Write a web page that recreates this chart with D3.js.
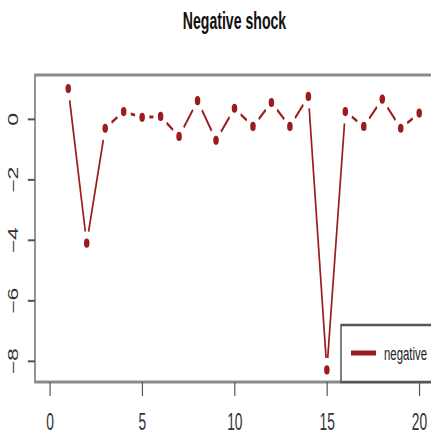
<!DOCTYPE html>
<html><head><meta charset="utf-8">
<script src="https://cdn.jsdelivr.net/npm/d3@7"></script>
<style>html,body{margin:0;padding:0;background:#fff;overflow:hidden}</style>
</head><body>
<script>
const periods = d3.range(1, 21);
const negative = [1.0, -4.11, -0.31, 0.24, 0.05, 0.08, -0.58, 0.6, -0.71, 0.35,
                  -0.25, 0.54, -0.25, 0.74, -8.3, 0.24, -0.25, 0.65, -0.31, 0.19];
const xTicks = [0, 5, 10, 15, 20];
const yTicks = [0, -2, -4, -6, -8];
const title = "Negative shock";
const seriesName = "negative";

const W = 431, H = 439, sx = 0.6, VW = W / sx;
const red = "#9a1c1f";
const svg = d3.select("body").append("svg")
  .attr("width", W).attr("height", H)
  .attr("viewBox", `0 0 ${VW} ${H}`)
  .attr("preserveAspectRatio", "none");

const x = d3.scaleLinear().domain([-0.8, 20.8]).range([35 / sx, 434 / sx]);
const y = d3.scaleLinear().domain([-8.7, 1.45]).range([382, 75]);

const [x0, x1] = x.range(), [yb, yt] = y.range();
svg.append("rect").attr("x", x0).attr("y", yt).attr("width", x1 - x0).attr("height", yb - yt)
  .attr("fill", "none").attr("stroke", "#8a8a8a").attr("stroke-width", 3);

const font = "'Liberation Sans', Arial, sans-serif";
const gx = svg.append("g").attr("transform", `translate(0,${yb})`)
  .call(d3.axisBottom(x).tickValues(xTicks).tickSize(14).tickPadding(18).tickFormat(d3.format("d")));
gx.select(".domain").remove();
gx.selectAll("line").attr("stroke", "#555").attr("stroke-width", 2);
gx.selectAll("text").attr("font-family", font).attr("font-size", 23).attr("fill", "#333");

const gy = svg.append("g").attr("transform", `translate(${x0},0)`)
  .call(d3.axisLeft(y).tickValues(yTicks).tickSize(12).tickPadding(10).tickFormat(d3.format("d")));
gy.select(".domain").remove();
gy.selectAll("line").attr("stroke", "#555").attr("stroke-width", 2);
gy.selectAll("text").attr("font-family", font).attr("font-size", 23).attr("fill", "#333")
  .attr("text-anchor", "middle")
  .attr("transform", "translate(-36,0) rotate(-90)")
  .attr("x", 0).attr("y", 0).attr("dy", "0.35em");

svg.append("text").attr("x", (x0 + x1) / 2).attr("y", 29)
  .attr("text-anchor", "middle").attr("font-family", font).attr("font-weight", "bold")
  .attr("font-size", 23.5).attr("fill", "#111").text(title);

const pts = periods.map((p, i) => [x(p), y(negative[i])]);
const gap = 12;
const segs = [];
for (let i = 0; i < pts.length - 1; i++) {
  const [ax, ay] = pts[i], [bx, by] = pts[i + 1];
  const dx = bx - ax, dy = by - ay, L = Math.hypot(dx, dy);
  if (L > 2 * gap) segs.push([ax + dx / L * gap, ay + dy / L * gap, bx - dx / L * gap, by - dy / L * gap]);
}
svg.append("g").selectAll("line").data(segs).join("line")
  .attr("x1", d => d[0]).attr("y1", d => d[1]).attr("x2", d => d[2]).attr("y2", d => d[3])
  .attr("stroke", red).attr("stroke-width", 2.8);
svg.append("g").selectAll("circle").data(pts).join("circle")
  .attr("cx", d => d[0]).attr("cy", d => d[1]).attr("r", 4.6).attr("fill", red);

const lg = svg.append("g");
lg.append("rect").attr("x", 341 / sx).attr("y", 325).attr("width", 200).attr("height", yb - 325)
  .attr("fill", "#fff").attr("stroke", "#555").attr("stroke-width", 2.5);
lg.append("line").attr("x1", 351 / sx).attr("x2", 376 / sx).attr("y1", 353).attr("y2", 353)
  .attr("stroke", red).attr("stroke-width", 5);
lg.append("text").attr("x", 384 / sx).attr("y", 360).attr("font-family", font)
  .attr("font-size", 19).attr("fill", "#222").text(seriesName);
</script>
</body></html>
